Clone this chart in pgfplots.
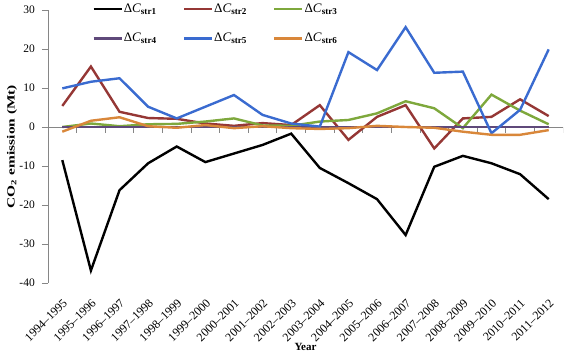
\documentclass[border=0pt]{standalone}
\usepackage{fontspec}
\setmainfont{Liberation Serif}
\usepackage{pgfplots}
\pgfplotsset{compat=1.18}
\usepackage{pgfplotstable}
\definecolor{cA}{HTML}{000000}
\definecolor{cB}{HTML}{953735}
\definecolor{cC}{HTML}{7EA83C}
\definecolor{cD}{HTML}{5F497A}
\definecolor{cE}{HTML}{3A6BD0}
\definecolor{cF}{HTML}{D9873A}
\definecolor{axgray}{HTML}{868686}
\pgfplotstableread{
x s1 s2 s3 s4 s5 s6
0 -8.5 5.4 0.0 0 9.9 -1.2
1 -36.8 15.5 0.9 0 11.6 1.6
2 -16.2 3.9 0.2 0 12.5 2.5
3 -9.3 2.3 0.7 0 5.2 0.2
4 -5.0 2.1 0.8 0 2.2 -0.2
5 -9.0 0.9 1.4 0 5.2 0.5
6 -6.8 0.3 2.2 0 8.2 -0.3
7 -4.6 1.0 0.4 0 3.1 0.2
8 -1.7 0.5 0.3 0 0.9 -0.3
9 -10.5 5.6 1.4 0 0.1 -0.5
10 -14.4 -3.3 1.8 0 19.2 -0.3
11 -18.5 2.6 3.5 0 14.6 0.3
12 -27.7 5.6 6.6 0 25.6 0.0
13 -10.2 -5.5 4.8 0 13.9 -0.2
14 -7.4 2.2 -0.3 0 14.2 -1.2
15 -9.3 2.6 8.3 0 -1.6 -2.0
16 -12.1 7.1 4.2 0 4.4 -2.0
17 -18.5 2.8 0.7 0 19.9 -0.8
}\data
\newcommand{\lgd}[1]{Δ\textit{C}\textsubscript{\textbf{str#1}}}
\begin{document}
\begin{tikzpicture}
\begin{axis}[
  at={(0pt,0pt)}, anchor=south west,
  scale only axis, width=515pt, height=273pt,
  xmin=-0.5, xmax=17.5, ymin=-40, ymax=30,
  axis x line=bottom, axis y line=left,
  x axis line style={draw=none, -}, y axis line style={axgray, line width=0.8pt, -},
  xtick={0,...,17},
  xticklabels={1994--1995,1995--1996,1996--1997,1997--1998,1998--1999,1999--2000,2000--2001,2001--2002,2002--2003,2003--2004,2004--2005,2005--2006,2006--2007,2007--2008,2008--2009,2009--2010,2010--2011,2011--2012},
  x tick style={draw=none}, xtick align=inside,
  xticklabel style={yshift=-15pt, xshift=0pt, rotate=45, anchor=north east, font=\fontsize{12}{12}\selectfont, inner sep=0pt},
  ytick={-40,-30,...,30},
  y tick style={axgray, line width=0.8pt},
  ytick align=outside, major tick length=6pt,
  yticklabel style={font=\fontsize{11.5}{12}\selectfont, inner sep=1pt, xshift=-6pt},
  /pgf/number format/assume math mode=true,
  xlabel={\textbf{Year}}, xlabel style={font=\fontsize{11}{12}\selectfont, at={(axis description cs:0.5,-0.234)}, anchor=center},
  ylabel={\scalebox{1.4}[1]{\textbf{CO\textsubscript{2} emission (Mt)}}}, ylabel style={font=\fontsize{11}{12}\selectfont, at={(axis description cs:-0.0699,0.5)}, anchor=center},
  legend columns=3,
  legend style={at={(rel axis cs:0.08,1.033)}, anchor=north west, draw=none, fill=none,
    font=\fontsize{13}{13}\selectfont, row sep=17pt,
    nodes={text width=58pt, inner sep=1pt}},
  legend image code/.code={\draw[#1, line width=2.4pt] (0pt,0pt) -- (28pt,0pt);},
  every axis plot/.append style={line width=2.4pt, no marks},
]
\draw[axgray, line width=0.8pt] (axis cs:-0.5,0) -- (axis cs:17.5,0);
\pgfplotsinvokeforeach{0,...,18}{
  \draw[axgray, line width=0.8pt] (axis cs:#1-0.5,0) -- ++(0pt,-6pt);
}
\addplot[cA] table[x=x,y=s1]{\data};
\addplot[cB] table[x=x,y=s2]{\data};
\addplot[cC] table[x=x,y=s3]{\data};
\addplot[cD] table[x=x,y=s4]{\data};
\addplot[cE] table[x=x,y=s5]{\data};
\addplot[cF] table[x=x,y=s6]{\data};
\legend{\lgd1,\lgd2,\lgd3,\lgd4,\lgd5,\lgd6}
\end{axis}
\pgfresetboundingbox
\useasboundingbox (-48pt,-71pt) rectangle (517pt,283pt);
\end{tikzpicture}
\end{document}
